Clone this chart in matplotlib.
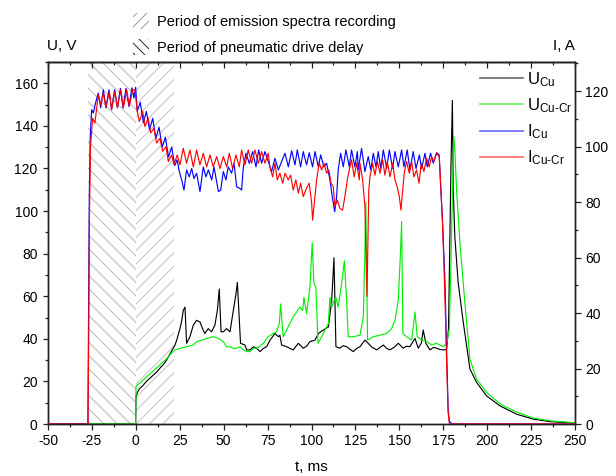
import matplotlib
matplotlib.use('Agg')
import matplotlib.pyplot as plt
from matplotlib.patches import Patch
from matplotlib.ticker import MultipleLocator

DPI = 120
PT = 72.0 / DPI   # points per pixel

plt.rcParams['font.family'] = ['Liberation Sans', 'DejaVu Sans']
plt.rcParams['mathtext.fontset'] = 'custom'
plt.rcParams['mathtext.rm'] = 'Liberation Sans'
plt.rcParams['mathtext.it'] = 'Liberation Sans:italic'
plt.rcParams['hatch.linewidth'] = 0.95 * PT
plt.rcParams['axes.unicode_minus'] = False

# ---------------- data ----------------
delay_span = (-27.0, 0.0)      # period of pneumatic drive delay, ms
spectra_span = (0.0, 22.0)     # period of emission spectra recording, ms

t_icu = [-50, -27.3, -27.0, -26.5, -26.0, -25.15, -24.2, -22.7, -21.4, -20.0, -18.5, -17.0,
         -15.3, -13.8, -12.1, -10.5, -8.8, -7.3, -5.6, -3.9, -2.2, -1.1, -0.1, 0.8,
         2.5, 4.3, 6.0, 7.8, 9.6, 11.4, 13.2, 15.0, 16.8, 18.6, 20.4, 22.2, 23.5,
         24.75, 26.1, 27.4, 28.9, 30.4, 31.8, 33.1, 34.6, 36.5, 38.4, 39.9, 41.3, 43.2, 44.5,
         47.0, 48.3, 49.8, 51.3, 52.6, 54.5, 55.9, 57.4, 59.3, 60.2, 61.2, 62.7, 64.6, 66.5,
         68.4, 69.9, 71.6, 73.5, 75.4, 77.3, 79.2, 81.1, 83.0, 84.9, 86.8, 88.7, 90.6, 91.9,
         93.8, 95.3, 97.2, 98.7, 100.6, 102.0, 103.9, 105.2, 107.1, 108.6, 110.5, 111.8, 113.2,
         114.3, 115.2, 116.6, 118.1, 119.6, 121.5, 122.8, 124.7, 126.1, 126.6, 128.5, 130.4,
         132.3, 133.7, 135.2, 136.7, 138.0, 139.4, 140.9, 142.8, 144.3, 146.2, 147.5, 149.4,
         151.3, 152.6, 154.5, 156.0, 157.9, 159.5, 161.4, 162.7, 164.6, 165.9, 167.8, 169.3,
         171.2, 172.7, 173.5, 174.6, 176.0, 176.9, 177.8, 178.5, 180.0, 250]
i_cu = [0, 0, 31, 82, 103, 113.3, 112.1, 116.3, 119.3, 114.0, 120.5, 114.0,
        120.5, 113.3, 120.5, 114.0, 121.0, 114.0, 121.0, 114.5, 121.2, 117.5, 121.4, 112.7,
        116.0, 108.6, 112.7, 106.0, 110.2, 103.0, 107.0, 99.8, 103.4, 96.2, 99.8, 93.2, 95.2,
        91.0, 88.0, 84.3, 91.6, 89.1, 92.1, 88.5, 90.4, 83.8, 92.7, 89.1, 91.6, 88.0, 92.7,
        83.8, 84.3, 91.0, 88.0, 92.7, 90.4, 94.0, 85.5, 84.9, 84.3, 92.7, 97.6, 94.0, 98.2,
        92.7, 98.8, 94.0, 98.2, 94.6, 91.0, 95.8, 91.6, 94.6, 97.6, 92.7, 98.5, 93.4, 98.8,
        92.7, 98.2, 93.4, 97.8, 92.7, 98.2, 92.7, 97.0, 92.7, 94.0, 88.0, 82.0, 76.5,
        82.0, 91.6, 97.6, 92.7, 98.8, 92.7, 98.8, 92.7, 98.2, 91.6, 99.4, 91.0,
        96.4, 91.6, 97.6, 92.7, 98.2, 92.1, 98.8, 92.1, 98.8, 92.1, 98.2, 92.7,
        98.8, 92.7, 98.8, 91.6, 98.2, 92.1, 97.0, 92.1, 97.6, 92.7, 97.6, 94.0,
        97.8, 97.0, 86.0, 73.0, 51.0, 27.0, 5.0, 1.0, 0, 0]

t_icucr = [-50, -27.2, -26.9, -26.4, -25.8, -24.6, -23.3, -21.4, -20.0, -18.5, -17.0, -15.1,
           -13.8, -11.9, -10.5, -8.6, -7.1, -5.2, -3.7, -1.8, -0.5, 0.8, 2.0, 3.9, 5.2, 7.1,
           8.4, 10.3, 11.8, 13.7, 15.3, 17.2, 18.5, 20.4, 21.7, 23.6,
           25.1, 27.0, 28.9, 30.8, 32.7, 34.6, 36.5, 38.4, 40.3, 42.2, 44.1, 46.0, 47.9, 49.8,
           51.7, 53.2, 55.1, 57.0, 58.9, 60.2, 62.1, 64.0, 65.9, 67.8, 69.7, 71.6, 73.5, 75.4,
           76.3, 77.9, 79.2, 80.5, 82.0, 83.6, 84.9, 86.8, 88.1, 89.6, 91.1, 92.5, 93.8, 95.3,
           97.2, 98.7, 100.1, 100.6, 101.6, 102.9, 104.4, 105.8, 107.1, 108.6, 109.9, 111.1,
           112.4, 113.3, 114.7, 116.2, 117.7, 119.0, 120.4, 121.5, 122.8, 124.3, 125.7, 127.2,
           127.6, 129.1, 130.4, 131.0, 131.6, 132.1, 132.6, 133.3, 134.8, 136.1, 137.5, 139.0,
           140.5, 141.8, 143.1, 144.7, 146.2, 147.5, 148.8, 150.0, 150.9, 151.9, 152.8, 154.1,
           155.7, 157.0, 158.3, 159.8, 161.2, 162.5, 164.0, 165.5, 167.0, 168.4, 169.7, 171.2,
           172.7, 173.5, 174.6, 175.5, 176.3, 177.0, 177.8, 178.5, 250]
i_cucr = [0, 0, 25, 75, 100, 110.2, 108.5, 118.6, 115.0, 119.3, 114.0, 119.9,
          113.3, 119.9, 114.0, 120.5, 114.0, 120.5, 114.5, 120.5, 120.5, 112.7, 109.1, 112.7, 107.2, 110.2,
          104.9, 106.6, 101.3, 103.0, 98.3, 100.0, 94.6, 97.0, 93.5, 97.0,
          93.4, 99.4, 94.0, 98.8, 92.7, 98.8, 93.4, 97.6, 92.7, 97.0, 92.7, 96.4, 92.1, 96.4,
          92.7, 97.6, 92.1, 97.0, 92.7, 98.8, 93.4, 98.8, 94.0, 98.8, 94.0, 98.2, 94.0, 97.6,
          92.7, 89.1, 94.0, 88.0, 90.4, 86.8, 90.4, 88.0, 89.7, 84.3, 88.0, 83.2, 86.8, 82.0,
          85.0, 86.8, 79.6, 73.5, 79.6, 88.0, 94.0, 91.6, 94.0, 90.4, 91.6, 86.8,
          85.5, 78.4, 80.7, 77.7, 77.1, 82.0, 88.0, 91.6, 95.2, 89.1, 94.0, 88.0,
          94.0, 88.0, 78.4, 62.0, 46.0, 65.0, 84.3, 89.1, 94.0, 89.7, 94.6, 90.4,
          95.2, 89.7, 94.6, 89.1, 94.0, 88.0, 85.5, 82.0, 77.1, 84.3, 90.4, 94.6,
          90.4, 94.6, 89.1, 91.6, 86.8, 94.0, 91.0, 95.8, 92.7, 96.4, 94.6, 97.6,
          96.4, 87.0, 72.0, 55.0, 38.0, 20.0, 4.0, 0, 0]

t_ucu = [-50, -0.1, 0.1, 1, 2, 4, 6, 8, 10, 12, 14, 15.6, 17.5, 19.5, 22.3, 23.5, 25.1, 26, 27, 28,
         28.9, 30.8, 32.7, 34.6, 36.5, 38.4, 39.3, 41.2, 43.1, 45, 46.4, 47.5, 48.5, 49.8, 51.7,
         53.6, 55.5, 57, 57.8, 59.6, 62.1, 63.1, 65, 66.9, 68.8, 70.7, 72.6, 74.5, 76.4, 79.2,
         81.1, 82.0, 83, 85.8, 87.7, 89.6, 92.5, 95.3, 97.2, 99.1, 102, 103.9, 106.7, 109.6,
         111.5, 112.8, 113.9, 116.2, 118, 120, 122, 123.8, 125.7, 127.6, 130.4, 132.3, 134.5,
         137.1, 140.9, 142.8, 144.6, 147, 149.4, 152.2, 154, 156, 158.9, 160.8, 162.5, 163.6,
         165.1, 167.4, 169.5, 171.2, 173, 175, 176.9, 178, 179.4, 180.2, 180.7, 181.6, 183.5,
         186.4, 190.2, 194, 199.7, 207.3, 216.8, 226.2, 235.7, 248.8]
u_cu = [0, 0, 13, 15, 16.5, 18, 20, 21.5, 23, 24.5, 26.5, 27.8, 30, 33, 37.1, 40, 44.8, 48, 53.3, 54.9,
        37.9, 41, 46.4, 48.7, 47.9, 44, 42.5, 44.8, 43.3, 46.4, 53.3, 63.4, 43.3, 43.3, 44.8,
        43.3, 53.3, 61.1, 66.5, 37.9, 37.1, 34.8, 34.8, 36.3, 35.5, 34, 35.5, 36.3, 39.4, 42.5,
        41, 41.7, 37.1, 36.3, 35.5, 34.8, 37.9, 35.6, 36.5, 38.7, 39.4, 42.5, 44.1, 45.6,
        58, 78.1, 36.3, 35.6, 36.8, 36.3, 35, 34, 35.5, 36.3, 39.4, 37.9, 36,
        34.8, 37.1, 35.5, 34.8, 36, 37.9, 35.6, 36.5, 36.3, 40.2, 35.6, 38, 44.1,
        37.9, 34.8, 36, 35.6, 35, 34.8, 35, 45, 121.6, 152, 110, 87.8, 66.3,
        47.7, 25.8, 19.5, 13.2, 8.5, 4.6, 2.3, 1.1, 0.5]

t_ucucr = [-50, -0.1, 0.1, 1, 2, 4, 6, 8, 10, 12, 14, 16, 18, 20, 22.3, 25.1, 28.9, 32.7, 34.6,
           37.5, 40.3, 44.1, 47, 49.8, 51.7, 53.6, 55.5, 57.4, 59.3, 61.2, 63.1, 65, 66.9, 68.8,
           70.5, 72.6, 75.4, 78.3, 80.1, 81.7, 82.4, 83.4, 83.9, 85.8, 87.7, 89.6, 91.5, 93.4,
           95, 95.7, 97.2, 99.1, 100.4, 101.4, 102.5, 103.7, 105.8, 107.7, 109.6, 110.5, 111.5,
           112.8, 113.9, 115.2, 117.1, 118.7, 120, 120.9, 123.8, 127.6, 129.5, 130.4, 130.9,
           131.9, 135.2, 138.9, 142.8, 145.6, 147.5, 149.4, 150.7, 151.3, 152.0, 154.1, 157,
           158.9, 160.2, 162.7, 165.5, 168.4, 171.2, 175, 177, 178.5, 179.5, 180.5, 181.0,
           181.6, 182.6, 184.5, 187.3, 190.2, 194, 199.7, 207.3, 216.8, 226.2, 235.7, 245, 250]
u_cucr = [0, 0, 17.6, 18.5, 19, 20.5, 22, 23.5, 25, 26.5, 28, 29.5, 31, 33, 34.8, 35.5, 36.3, 37.1, 38.6,
          39.4, 40.2, 41, 40.2, 38.6, 36.3, 36.3, 35.5, 35.6, 36.3, 34.8, 34, 34, 35.5, 35.6,
          36.5, 37.9, 41, 42.5, 43.3, 47.2, 56.4, 45.6, 41, 44.1, 47.2, 50.3, 52.6, 54.9,
          53.3, 59.5, 51.8, 64.2, 85.1, 65.7, 64.2, 37.9, 41, 44.1, 47.2, 59.5, 54.9,
          58, 59.5, 54.9, 65.7, 76.6, 58, 41, 41, 41.7, 50.3, 81.2, 104,
          39.4, 41, 41.7, 42.5, 44.8, 48.7, 58, 81.2, 95.1, 42.5, 41, 39.4,
          52.6, 41, 39.4, 38.7, 37.1, 37.9, 36.3, 38, 45, 80, 120, 135,
          128.5, 109.6, 84.9, 57, 30.4, 21, 14.9, 9.4, 5.6, 2.8, 1.5, 0.9, 0.5]

labels = ['U$_{\\mathrm{Cu}}$', 'U$_{\\mathrm{Cu\\text{-}Cr}}$',
          'I$_{\\mathrm{Cu}}$', 'I$_{\\mathrm{Cu\\text{-}Cr}}$']
colors = ['black', '#00ee00', '#0000ff', '#ff0000']

# ---------------- figure ----------------
W, H = 616, 476
fig = plt.figure(figsize=(W / DPI, H / DPI), dpi=DPI)
ax = fig.add_axes([48 / W, 52 / H, 527 / W, 362 / H])
ax2 = ax.twinx()

ax.axvspan(*delay_span, facecolor='none', edgecolor='#b4b4b4', hatch='\\\\\\', lw=0, zorder=0)
ax.axvspan(*spectra_span, facecolor='none', edgecolor='#c0c0c0', hatch='///', lw=0, zorder=0)

line_kw = dict(lw=1.15 * PT, solid_joinstyle='round')
l1, = ax.plot(t_ucu, u_cu, color=colors[0], zorder=3, **line_kw)
l2, = ax.plot(t_ucucr, u_cucr, color=colors[1], zorder=4, **line_kw)
l3, = ax2.plot(t_icu, i_cu, color=colors[2], zorder=3, **line_kw)
l4, = ax2.plot(t_icucr, i_cucr, color=colors[3], zorder=4, **line_kw)

ax.set_xlim(-50, 250)
ax.set_ylim(0, 170)
ax2.set_ylim(0, 130.5)
ax.xaxis.set_major_locator(MultipleLocator(25))
ax.xaxis.set_minor_locator(MultipleLocator(12.5))
ax.yaxis.set_major_locator(MultipleLocator(20))
ax.yaxis.set_minor_locator(MultipleLocator(10))
ax2.yaxis.set_major_locator(MultipleLocator(20))
ax2.yaxis.set_minor_locator(MultipleLocator(10))

TW = 1.25 * PT
maj_len, min_len = 5.5 * PT, 3.0 * PT
tick_kw = dict(labelsize=13.9 * PT, width=TW, colors='#222222', labelcolor='black', pad=4.8 * PT)
ax.tick_params(axis='both', which='major', direction='out', length=maj_len, **tick_kw)
ax.tick_params(axis='both', which='minor', direction='out', length=min_len, width=TW, colors='#222222')
ax2.tick_params(axis='y', which='major', direction='out', length=maj_len, **tick_kw)
ax2.tick_params(axis='y', which='minor', direction='out', length=min_len, width=TW, colors='#222222')

sec = ax.secondary_xaxis('top')
sec.xaxis.set_major_locator(MultipleLocator(25))
sec.xaxis.set_minor_locator(MultipleLocator(12.5))
sec.tick_params(which='major', direction='in', length=maj_len, width=TW, labeltop=False, colors='#222222')
sec.tick_params(which='minor', direction='in', length=min_len, width=TW, colors='#222222')

for a in (ax, ax2):
    for s in a.spines.values():
        s.set_linewidth(1.4 * PT)
        s.set_color('#222222')
for s in sec.spines.values():
    s.set_linewidth(1.4 * PT)
    s.set_color('#222222')

ax.set_xlabel('t, ms', fontsize=15.3 * PT)
ax.xaxis.set_label_coords(0.5, -0.1)
fig.text(47 / W, 1 - 46 / H, 'U, V', ha='left', va='center', fontsize=15.3 * PT)
fig.text(575 / W, 1 - 46 / H, 'I, A', ha='right', va='center', fontsize=15.3 * PT)

# legends
leg1 = ax.legend([l1, l2, l3, l4], labels, loc='upper left',
                 bbox_to_anchor=(480 / W, 1 - 70 / H), bbox_transform=fig.transFigure,
                 frameon=False, fontsize=16.7 * PT, handlelength=2.6, handletextpad=0.2,
                 labelspacing=0.45, borderpad=0, borderaxespad=0)
for h in leg1.legend_handles:
    h.set_alpha(0.6)
    h.set_linewidth(1.65 * PT)

hatch_handles = [Patch(facecolor='white', edgecolor='#9a9a9a', hatch='////', lw=0),
                 Patch(facecolor='white', edgecolor='#222222', hatch='\\\\\\\\', lw=0)]
fig.legend(hatch_handles, ['Period of emission spectra recording', 'Period of pneumatic drive delay'],
           loc='upper left', bbox_to_anchor=(133 / W, 1 - 13 / H), frameon=False,
           fontsize=14.6 * PT, handlelength=1.1, handleheight=1.3, handletextpad=0.55,
           labelspacing=0.72, borderpad=0, borderaxespad=0)

fig.savefig('out.png', dpi=DPI)
